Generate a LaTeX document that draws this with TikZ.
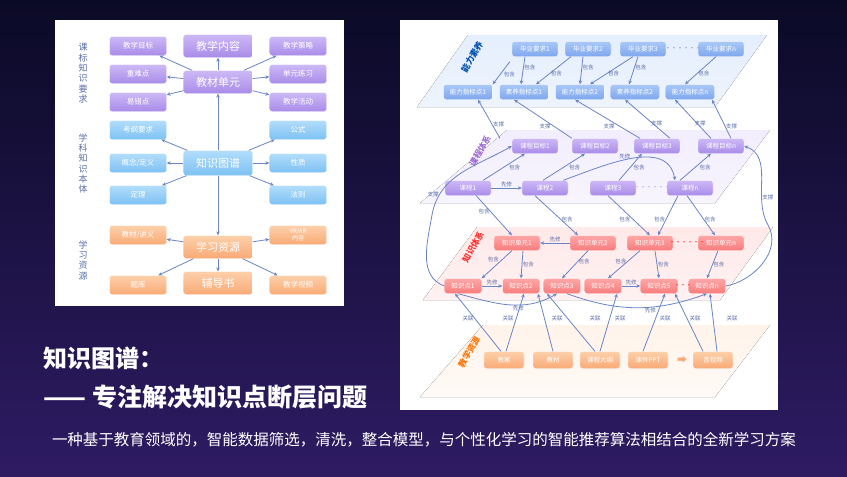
\documentclass[tikz,border=0pt]{standalone}
\usepackage{fontspec}
\setmainfont{Noto Sans CJK SC}
\usetikzlibrary{arrows.meta}
\definecolor{bgT}{HTML}{0B0A26}\definecolor{bgB}{HTML}{2E1B63}
\definecolor{pA}{HTML}{CDB9F6}\definecolor{pB}{HTML}{A98BE8}
\definecolor{bA}{HTML}{B2DDFB}\definecolor{bB}{HTML}{7DC1F3}
\definecolor{oA}{HTML}{FDD0AA}\definecolor{oB}{HTML}{F9AA76}
\definecolor{rA}{HTML}{FFA6A6}\definecolor{rB}{HTML}{F77C7C}
\definecolor{lbA}{HTML}{A9C8F7}\definecolor{lbB}{HTML}{7FA7EE}
\definecolor{arr}{HTML}{6A85C5}\definecolor{lab}{HTML}{5A6FA8}
\begin{document}
\begin{tikzpicture}[x=1pt,y=-1pt,
 bx/.style={rounded corners=2.5,inner sep=0,text=white,draw=white,line width=.3},
 L/.style={bx,minimum width=57,minimum height=19,font=\fontsize{7.5}{8}\selectfont},
 C/.style={bx,minimum width=69,minimum height=23,font=\fontsize{11}{11}\selectfont},
 P/.style={top color=pA,bottom color=pB},B/.style={top color=bA,bottom color=bB},O/.style={top color=oA,bottom color=oB},
 R/.style={bx,minimum width=46,minimum height=15,font=\fontsize{6.5}{7}\selectfont},
 K/.style={bx,minimum width=37,minimum height=15,font=\fontsize{6.5}{7}\selectfont,top color=rA,bottom color=rB},
 ar/.style={draw=arr,line width=.8,-{Stealth[length=4pt,width=3.5pt]}},
 t/.style={font=\fontsize{5.5}{6}\selectfont,text=lab,inner sep=0.5},
 ly/.style={font=\bfseries\fontsize{8.5}{9}\selectfont,rotate=60}]
\useasboundingbox (0,0) rectangle (847,477);
\shade[top color=bgT,bottom color=bgB] (0,0) rectangle (847,477);
\fill[white] (55,20) rectangle (344,306);
\fill[white] (400,20) rectangle (778,410);
% left panel
\node[anchor=north,text=lab,font=\fontsize{9}{10.3}\selectfont,align=center] (lbl1) at (83,40) {课\\标\\知\\识\\要\\求};
\node[anchor=north,text=lab,font=\fontsize{9}{10.3}\selectfont,align=center] (lbl2) at (83,130) {学\\科\\知\\识\\本\\体};
\node[anchor=north,text=lab,font=\fontsize{9}{10.3}\selectfont,align=center] (lbl3) at (83,237) {学\\习\\资\\源};
\node[L,P] (a1) at (138,46) {教学目标};
\node[L,P] (a2) at (138,74) {重难点};
\node[L,P] (a3) at (138,102) {易错点};
\node[C,P] (a4) at (218,46) {教学内容};
\node[C,P] (a5) at (218,82) {教材单元};
\node[L,P] (a6) at (298,46) {教学策略};
\node[L,P] (a7) at (298,74) {单元练习};
\node[L,P] (a8) at (298,102) {教学活动};
\node[L,B] (b1) at (138,130) {考纲要求};
\node[L,B] (b2) at (138,163) {概念/定义};
\node[L,B] (b3) at (138,195) {定理};
\node[C,B,minimum height=25] (b4) at (218,163) {知识图谱};
\node[L,B] (b6) at (298,130) {公式};
\node[L,B] (b7) at (298,163) {性质};
\node[L,B] (b8) at (298,195) {法则};
\node[L,O] (c1) at (138,235) {教材/讲义};
\node[L,O] (c2) at (138,285) {题库};
\node[C,O] (c4) at (218,247) {学习资源};
\node[C,O] (c5) at (218,283) {辅导书};
\node[L,O,align=center,font=\fontsize{6}{6.5}\selectfont] (c6) at (298,235) {VR/AR\\内容};
\node[L,O] (c7) at (298,285) {教学视频};
\draw[ar] (a5)--(a4);
\foreach \n in {a1,a2,a3,a6,a7,a8} \draw[ar] (a5)--(\n);
\draw[ar] (b4)--(a5);
\foreach \n in {b1,b2,b3,b6,b7,b8} \draw[ar] (b4)--(\n);
\draw[ar] (b4)--(c4);
\foreach \n in {c1,c2,c5,c6,c7} \draw[ar] (c4)--(\n);
% title
\node[anchor=west,text=white,font=\bfseries\fontsize{24}{25}\selectfont] (tt1) at (40,358) {知识图谱：};
\node[anchor=west,text=white,font=\bfseries\fontsize{25}{26}\selectfont] (tt2) at (40,397) {—— 专注解决知识点断层问题};
\node[text=white,font=\fontsize{15.5}{16}\selectfont] (sub) at (424,440) {一种基于教育领域的，智能数据筛选，清洗，整合模型，与个性化学习的智能推荐算法相结合的全新学习方案};
% right panel layers
\fill[top color=white!70!lbA,bottom color=white!80!lbA] (468,35)--(767,35)--(715,107)--(417,107)--cycle;
\fill[top color=white!75!pA,bottom color=white!85!pA] (507,130)--(770,130)--(715,203)--(420,203)--cycle;
\fill[top color=white!75!rA,bottom color=white!85!rA] (477,227)--(773,227)--(720,300)--(423,300)--cycle;
\fill[top color=white!75!oA,bottom color=white!90!oA] (483,325)--(770,325)--(715,397)--(420,397)--cycle;
\node[ly,text=blue!55!cyan!70!black] (l1) at (472,57) {能力素养};
\node[ly,text=pB!80!violet] (l2) at (480,151) {课程体系};
\node[ly,text=red!80] (l3) at (473,247) {知识体系};
\node[ly,text=orange!90!red] (l4) at (469,352) {教学资源};
% layer1
\foreach \x/\s [count=\i] in {535/1,588/2,643/3,721/n}
 \node[R,top color=lbA,bottom color=lbB] (g\i) at (\x,49) {毕业要求\s};
\node[text=arr,font=\fontsize{6}{6}\selectfont] (gd) at (683,49) {······};
\foreach \x/\s [count=\i] in {468/能力指标点1,524/素养指标点1,580/能力指标点2,635/素养指标点2,690/能力指标点n}
 \node[R,minimum width=49,top color=lbA,bottom color=lbB] (h\i) at (\x,92) {\s};
\draw[ar] (g1.south west)++(-2,5)--(h1.north east) node[t,pos=.4,below right]{包含};
\draw[ar] ([xshift=-10]g1.south)--([xshift=-3]h2.north) node[t,pos=.4,right]{包含};
\draw[ar] ([xshift=-17]g2.south)--([xshift=12]h2.north) node[t,pos=.6,right]{包含};
\draw[ar] ([xshift=-5]g2.south)--([xshift=0]h3.north) node[t,pos=.4,right]{包含};
\draw[ar] ([xshift=-10]g3.south)--([xshift=10]h3.north) node[t,pos=.6,right]{包含};
\draw[ar] ([xshift=-5]g3.south)--([xshift=-6]h4.north) node[t,pos=.4,right]{包含};
\draw[ar] ([xshift=-5]g4.south)--([xshift=-5]h5.north) node[t,pos=.6,right]{包含};
% layer2
\foreach \x/\s [count=\i] in {535/1,595/2,657/3,721/n}
 \node[R,P] (m\i) at (\x,146) {课程目标\s};
\foreach \x/\s [count=\i] in {468/1,545/2,613/3,690/n}
 \node[R,P] (k\i) at (\x,188) {课程\s};
\node[text=pB,font=\fontsize{6}{6}\selectfont] (kd) at (652,188) {······};
\draw[ar] (k1.north east)++(-8,0)--([xshift=-10]m1.south) node[t,pos=.6,below right]{包含};
\draw[ar] ([xshift=-2]k2.north)--([xshift=-10]m2.south) node[t,pos=.6,below right]{包含};
\draw[ar] ([xshift=6]k3.north)--([xshift=-15]m3.south) node[t,pos=.6,below right]{包含};
\draw[ar] ([xshift=-10]k4.north)--([xshift=-10]m4.south) node[t,pos=.6,below right]{包含};
\draw[ar] (k1)--(k2) node[t,midway,above]{先修};
\draw[ar] ([xshift=-5]k2.north east) to[out=20,in=100] node[t,pos=.45,above]{先修} ([xshift=-15]k4.north);
\draw[ar] ([xshift=-35]m1.north)--([xshift=10]h1.south) node[t,pos=.35,right]{支撑};
\draw[ar] ([xshift=-23]m2.north)--([xshift=-10]h2.south) node[t,pos=.3,left=3]{支撑};
\draw[ar] ([xshift=-17]m3.north)--([xshift=-5]h3.south) node[t,pos=.3,left=5]{支撑};
\draw[ar] ([xshift=13]m3.north)--([xshift=-10]h4.south) node[t,pos=.3,above]{支撑};
\draw[ar] ([xshift=-10]m4.north)--([xshift=-15]h5.south) node[t,pos=.3,above]{支撑};
\draw[ar] ([xshift=10]m4.north)--([xshift=22]h5.south) node[t,pos=.3,right]{支撑};
% layer3
\foreach \x/\s [count=\i] in {517/1,593/2,650/3,721/n}
 \node[R,top color=rA,bottom color=rB] (u\i) at (\x,243) {知识单元\s};
\node[text=red,font=\fontsize{6}{6}\selectfont] (ud) at (687,243) {······};
\foreach \x/\s [count=\i] in {463/1,521/2,562/3,603/4,659/5,707/n}
 \node[K] (p\i) at (\x,286) {知识点\s};
\node[text=red,font=\fontsize{6}{6}\selectfont] (pd) at (683,286) {···};
\draw[ar] ([xshift=-15]k1.south east)--([xshift=-5]u1.north) node[t,pos=.4,left]{包含};
\draw[ar] ([xshift=-10]k2.south)--([xshift=-15]u2.north) node[t,pos=.6,right]{包含};
\draw[ar] ([xshift=-5]k3.south)--([xshift=0]u3.north) node[t,pos=.6,left=2]{包含};
\draw[ar] ([xshift=-12]k4.south)--([xshift=8]u3.north) node[t,pos=.6,left]{包含};
\draw[ar] ([xshift=-3]k4.south)--([xshift=-6]u4.north) node[t,pos=.6,right]{包含};
\draw[ar] (u2)--(u1) node[t,midway,above]{先修};
\draw[ar] ([xshift=-5]u1.south)--(p1.north east) node[t,pos=.3,left=3]{包含};
\draw[ar] ([xshift=6]u1.south)--(p2.north) node[t,pos=.5,right]{包含};
\draw[ar] ([xshift=-5]u2.south)--([xshift=0]p3.north) node[t,pos=.4,right]{包含};
\draw[ar] ([xshift=-10]u3.south)--([xshift=5]p4.north) node[t,pos=.4,left]{包含};
\draw[ar] ([xshift=5]u3.south)--([xshift=0]p5.north) node[t,pos=.5,right]{包含};
\draw[ar] ([xshift=-3]u4.south)--(p6.north) node[t,pos=.5,right]{包含};
\draw[ar] (p1)--(p2) node[t,midway,above]{先修};
\draw[ar] (p4)--(p5) node[t,midway,above]{先修};
\draw[ar] ([xshift=-5]p1.south) to[out=-15,in=-150] node[t,pos=.6,below]{先修} ([xshift=-5]p3.south);
\draw[ar] ([xshift=5]p3.south) to[out=-20,in=-160] node[t,pos=.6,below]{先修} (p6.south);
\draw[ar] (p1.west) to[out=160,in=-100] (432,215) to[out=80,in=-150] node[t,pos=.2,left]{支撑} (m1.west);
\draw[ar] (p6.east) to[out=10,in=-60] (768,225) to[out=120,in=-20] node[t,pos=.3,right]{支撑} (m4.east);
% layer4
\foreach \x/\s [count=\i] in {504/教案,553/教材,600/课程大纲,648/课件PPT,713/音视频}
 \node[R,minimum width=40,minimum height=17,top color=oA,bottom color=oB] (r\i) at (\x,360) {\s};
\node[text=oB,font=\fontsize{10}{10}\selectfont] (ra) at (682,360) {➡};
\draw[ar] ([xshift=-3]r1.north)--([xshift=-8]p1.south);
\draw[ar] ([xshift=2]r1.north)--([xshift=3]p2.south);
\draw[ar] ([xshift=0]r2.north)--([xshift=17]p2.south);
\draw[ar] ([xshift=-5]r3.north)--([xshift=-15]p3.south);
\draw[ar] ([xshift=0]r3.north)--([xshift=14]p4.south);
\draw[ar] ([xshift=-5]r4.north)--([xshift=6]p5.south);
\draw[ar] ([xshift=-10]r5.north)--([xshift=16]p5.south);
\draw[ar] ([xshift=4]r5.north)--([xshift=3]p6.south);
\foreach \x [count=\i] in {468,508,557,595,620,665,695,732}
 \node[t] (q\i) at (\x,318) {关联};
\end{tikzpicture}
\end{document}
